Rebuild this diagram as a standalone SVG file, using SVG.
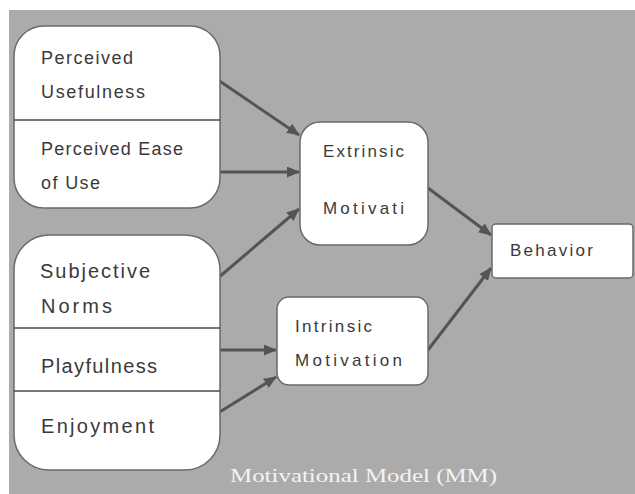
<svg xmlns="http://www.w3.org/2000/svg" width="635" height="494" viewBox="0 0 635 494">
  <defs>
    <marker id="head" markerUnits="userSpaceOnUse" markerWidth="13" markerHeight="11" refX="12" refY="5.5" orient="auto">
      <path d="M0,0 L13,5.5 L0,11 z" fill="#545454"/>
    </marker>
    <style>
      .box { fill: #ffffff; stroke: #6a6a6a; stroke-width: 1.5; }
      .div { stroke: #4a4a4a; stroke-width: 1.5; }
      .lbl { font-family: "Liberation Sans", Arial, sans-serif; fill: #3a3a3a; font-size: 17px; }
      .mid { font-size: 18px; }
      .big { font-size: 20px; }
      .edge { stroke: #545454; stroke-width: 3; fill: none; marker-end: url(#head); }
      .cap { font-family: "Liberation Serif", "Times New Roman", serif; fill: #f4f4f4; font-size: 19px; }
    </style>
  </defs>

  <rect x="0" y="0" width="635" height="494" fill="#ffffff"/>
  <rect x="9" y="10" width="626" height="484" fill="#ababab"/>

  <g id="connectors">
    <line class="edge" x1="218" y1="80" x2="299" y2="135"/>
    <line class="edge" x1="218" y1="172" x2="299" y2="172"/>
    <line class="edge" x1="218" y1="278" x2="299" y2="209"/>
    <line class="edge" x1="218" y1="350" x2="276" y2="350"/>
    <line class="edge" x1="218" y1="413" x2="276" y2="377"/>
    <line class="edge" x1="428" y1="188" x2="491" y2="235"/>
    <line class="edge" x1="428" y1="350" x2="491" y2="268"/>
  </g>

  <g id="tam-factors">
    <rect class="box" x="14" y="26" width="206" height="182" rx="30"/>
    <line class="div" x1="14" y1="120" x2="220" y2="120"/>
    <text class="lbl mid" x="41" y="64" textLength="92" lengthAdjust="spacing">Perceived</text>
    <text class="lbl mid" x="41" y="98" textLength="104" lengthAdjust="spacing">Usefulness</text>
    <text class="lbl mid" x="41" y="155" textLength="142" lengthAdjust="spacing">Perceived Ease</text>
    <text class="lbl mid" x="41" y="189" textLength="59" lengthAdjust="spacing">of Use</text>
  </g>

  <g id="other-factors">
    <rect class="box" x="14" y="235" width="206" height="235" rx="35"/>
    <line class="div" x1="14" y1="328" x2="220" y2="328"/>
    <line class="div" x1="14" y1="391" x2="220" y2="391"/>
    <text class="lbl big" x="40" y="278" textLength="110" lengthAdjust="spacing">Subjective</text>
    <text class="lbl big" x="41" y="313" textLength="71" lengthAdjust="spacing">Norms</text>
    <text class="lbl big" x="41" y="373" textLength="116" lengthAdjust="spacing">Playfulness</text>
    <text class="lbl big" x="41" y="433" textLength="113" lengthAdjust="spacing">Enjoyment</text>
  </g>

  <g id="extrinsic">
    <rect class="box" x="300" y="122" width="128" height="123" rx="20"/>
    <text class="lbl" x="323" y="157" textLength="81" lengthAdjust="spacing">Extrinsic</text>
    <text class="lbl" x="323" y="214" textLength="81" lengthAdjust="spacing">Motivati</text>
  </g>

  <g id="intrinsic">
    <rect class="box" x="277" y="297" width="151" height="88" rx="12"/>
    <text class="lbl" x="295" y="332" textLength="77" lengthAdjust="spacing">Intrinsic</text>
    <text class="lbl" x="295" y="366" textLength="107" lengthAdjust="spacing">Motivation</text>
  </g>

  <g id="behavior">
    <rect class="box" x="492" y="224" width="141" height="54" rx="4"/>
    <text class="lbl" x="510" y="256" textLength="83" lengthAdjust="spacing">Behavior</text>
  </g>

  <text class="cap" x="230" y="482" textLength="267" lengthAdjust="spacingAndGlyphs">Motivational Model (MM)</text>
</svg>
